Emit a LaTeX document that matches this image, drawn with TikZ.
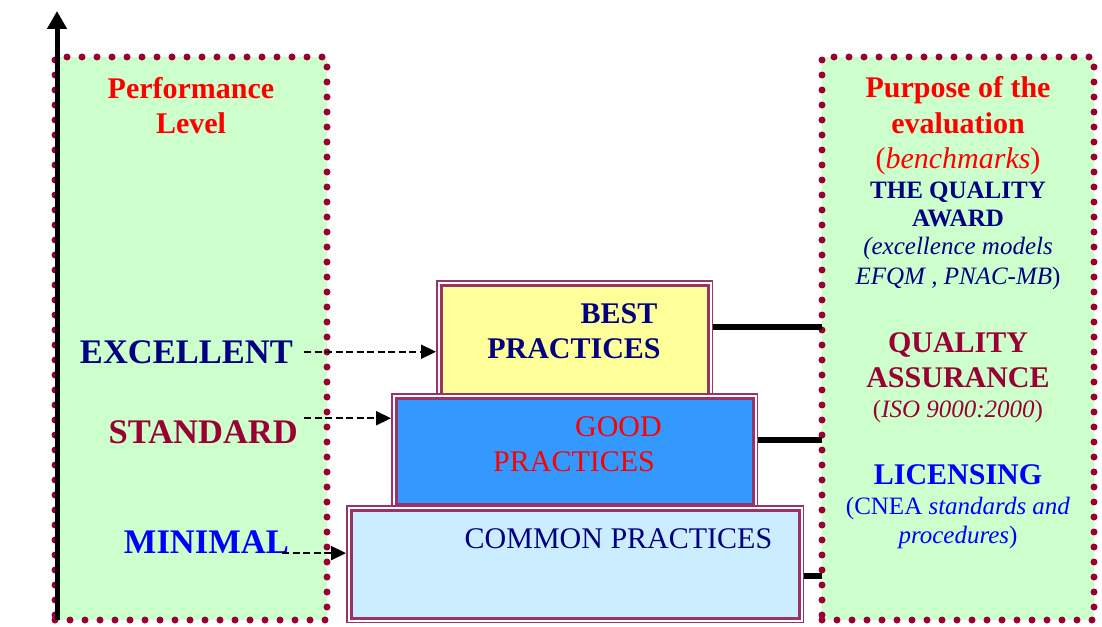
\documentclass[tikz,border=0pt]{standalone}
\usepackage{fontspec}
\setmainfont{Liberation Serif}
\usetikzlibrary{arrows.meta}
\definecolor{panelgreen}{HTML}{CCFFCC}
\definecolor{dotred}{HTML}{990033}
\definecolor{boxline}{HTML}{993366}
\definecolor{bestfill}{HTML}{FFFF99}
\definecolor{goodfill}{HTML}{3399FF}
\definecolor{commonfill}{HTML}{CCECFF}
\definecolor{navy}{HTML}{000080}
\definecolor{wine}{HTML}{990033}
\definecolor{brightblue}{HTML}{0000FF}
\definecolor{brightred}{HTML}{FF0000}
\newcommand\fsz[1]{\fontsize{#1}{#1}\selectfont}
\begin{document}
\begin{tikzpicture}[x=1pt,y=-1pt,
  panel/.style={rectangle, fill=panelgreen, draw=dotred, line width=7pt,
    dash pattern=on 0pt off 15pt, line cap=round, inner sep=0pt, outer sep=0pt},
  tier/.style={rectangle, inner sep=0pt, outer sep=5pt, draw=boxline, line width=3pt,
    preaction={draw=boxline, line width=10pt},
    preaction={draw=white, line width=7pt}},
  txt/.style={inner sep=0pt, anchor=base},
  lvl/.style={inner sep=0pt, anchor=base east, font=\bfseries\fsz{34.5}},
  axisline/.style={line width=5pt, -{Triangle[length=18pt,width=19pt]}},
  dasharrow/.style={line width=2.2pt, dash pattern=on 7pt off 3.5pt,
    -{Triangle[length=15pt,width=14pt]}},
  link/.style={line width=6pt}
]
\useasboundingbox (0,0) rectangle (1102,626);

% side panels
\node[panel, minimum width=272pt, minimum height=563pt] (levels) at (191,338.5) {};
\node[panel, minimum width=272pt, minimum height=563pt] (purpose) at (958,338.5) {};

% vertical axis
\coordinate (origin) at (57,620);
\coordinate (axistop) at (57,11);
\draw[axisline] (origin) -- (axistop);

% practice tiers
\node[tier, fill=bestfill, minimum width=267pt, minimum height=113pt] (best) at (574.5,341.5) {};
\node[tier, fill=goodfill, minimum width=357pt, minimum height=106pt] (good) at (574.5,451) {};
\node[tier, fill=commonfill, minimum width=448pt, minimum height=108pt] (common) at (575,564) {};

\node[txt, text=navy, font=\bfseries\fsz{30}] (bestA) at (619,323) {BEST};
\node[txt, text=navy, font=\bfseries\fsz{30}] (bestB) at (574,358) {PRACTICES};
\node[txt, text=brightred, font=\fsz{30}] (goodA) at (618.5,436) {GOOD};
\node[txt, text=brightred, font=\fsz{30}] (goodB) at (574,471) {PRACTICES};
\node[txt, text=navy, font=\fsz{30}] (commonA) at (618.5,548) {COMMON PRACTICES};

% performance levels
\node[txt, text=brightred, font=\bfseries\fsz{30}] (perfA) at (191,98) {Performance};
\node[txt, text=brightred, font=\bfseries\fsz{30}] (perfB) at (191,133) {Level};
\node[lvl, text=navy] (excellent) at (293,363) {EXCELLENT};
\node[lvl, text=wine] (standard) at (298,443) {STANDARD};
\node[lvl, text=brightblue] (minimal) at (289,553) {MINIMAL};

% purposes of the evaluation
\node[txt, text=brightred, font=\bfseries\fsz{30}] (p1) at (958,97) {Purpose of the};
\node[txt, text=brightred, font=\bfseries\fsz{30}] (p2) at (958,133) {evaluation};
\node[txt, text=brightred, font=\fsz{30}] (p3) at (958,168) {(\textit{benchmarks})};
\node[txt, text=navy, font=\bfseries\fsz{25}] (p4) at (958,198) {THE QUALITY};
\node[txt, text=navy, font=\bfseries\fsz{25}] (p5) at (958,226) {AWARD};
\node[txt, text=navy, font=\fsz{25}] (p6) at (958,254) {\textit{(excellence models}};
\node[txt, text=navy, font=\fsz{25}] (p7) at (958,284) {\textit{EFQM , PNAC-MB})};
\node[txt, text=wine, font=\bfseries\fsz{30}] (p8) at (958,352) {QUALITY};
\node[txt, text=wine, font=\bfseries\fsz{30}] (p9) at (958,387) {ASSURANCE};
\node[txt, text=wine, font=\fsz{25}] (p10) at (958,417) {(\textit{ISO 9000:2000})};
\node[txt, text=brightblue, font=\bfseries\fsz{30}] (p11) at (958,484) {LICENSING};
\node[txt, text=brightblue, font=\fsz{25}] (p12) at (958,514) {(CNEA \textit{standards and}};
\node[txt, text=brightblue, font=\fsz{25}] (p13) at (958,543) {\textit{procedures})};

% level -> tier arrows
\coordinate (exS) at ([xshift=11pt]excellent.east);
\coordinate (stS) at ([xshift=6pt,yshift=13.5pt]standard.east);
\coordinate (miS) at ([xshift=-7pt,yshift=-11.5pt]minimal.east);
\draw[dasharrow] (exS) -- (exS -| best.west);
\draw[dasharrow] (stS) -- (stS -| good.west);
\draw[dasharrow] (miS) -- (miS -| common.west);

% tier -> purpose links
\coordinate (bestE) at ([yshift=14.5pt]best.east);
\coordinate (goodE) at ([yshift=11pt]good.east);
\coordinate (commonE) at ([yshift=-12pt]common.east);
\draw[link] (bestE) -- (bestE -| purpose.west);
\draw[link] (goodE) -- (goodE -| purpose.west);
\draw[link] (commonE) -- (commonE -| purpose.west);
\end{tikzpicture}
\end{document}
